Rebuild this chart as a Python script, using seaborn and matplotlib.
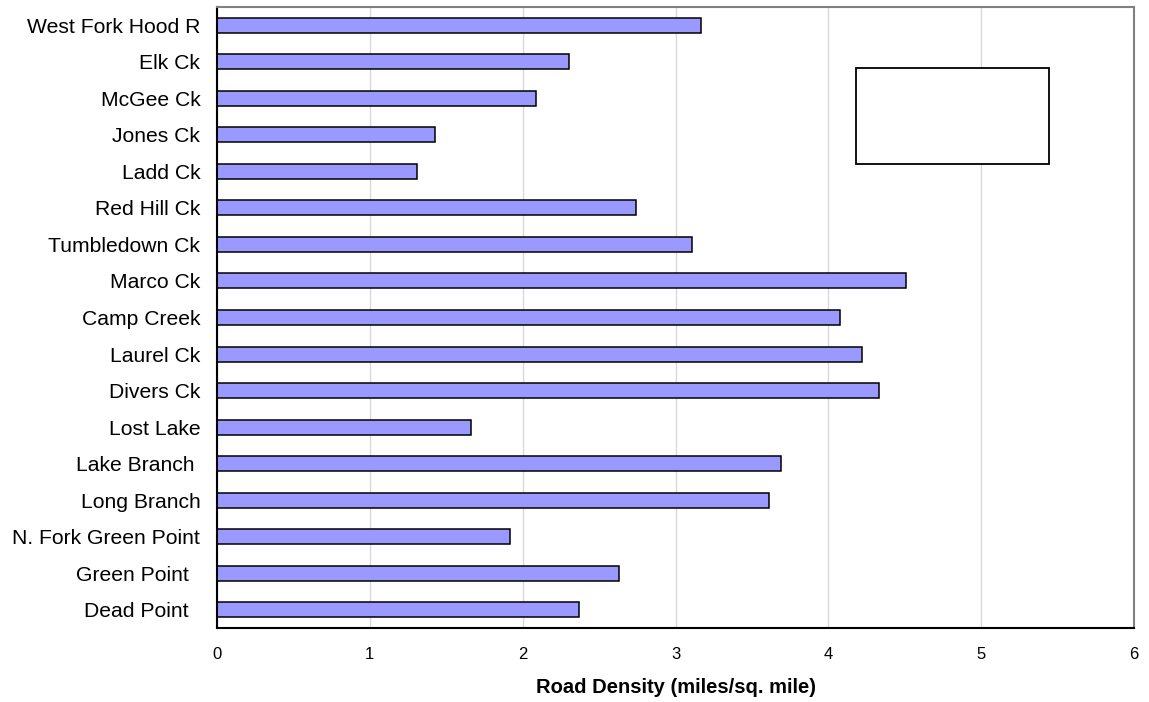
import pandas as pd
import matplotlib
matplotlib.use("Agg")
import matplotlib.pyplot as plt
import seaborn as sns
from matplotlib.patches import Rectangle

streams = ["West Fork Hood R", "Elk Ck", "McGee Ck", "Jones Ck", "Ladd Ck",
           "Red Hill Ck", "Tumbledown Ck", "Marco Ck", "Camp Creek", "Laurel Ck",
           "Divers Ck", "Lost Lake", "Lake Branch ", "Long Branch",
           "N. Fork Green Point", "Green Point  ", "Dead Point  "]
density = [3.165, 2.30, 2.09, 1.425, 1.31,
           2.74, 3.11, 4.505, 4.075, 4.22,
           4.33, 1.665, 3.69, 3.61,
           1.915, 2.63, 2.37]
x_ticks = [0, 1, 2, 3, 4, 5, 6]

df = pd.DataFrame({"stream": streams, "density": density})

sns.set_theme(style="white")
plt.rcParams['font.family'] = ['Liberation Sans', 'DejaVu Sans']
plt.rcParams['text.color'] = 'black'
plt.rcParams['axes.labelcolor'] = 'black'
plt.rcParams['xtick.color'] = 'black'
plt.rcParams['ytick.color'] = 'black'

fig = plt.figure(figsize=(11.49, 7.02), dpi=100)
ax = fig.add_axes([217 / 1149, 1 - 628 / 702, (1134 - 217) / 1149, (628 - 7) / 702])

sns.barplot(data=df, x="density", y="stream", orient="h", color="#9999FF",
            saturation=1, width=0.41, edgecolor="black", linewidth=1.1, ax=ax)

ax.set_xlim(0, 6)
ax.set_ylim(len(streams) - 0.5, -0.5)
ax.set_xticks(x_ticks)
ax.set_xticklabels([str(t) for t in x_ticks], fontsize=12)
ax.tick_params(axis="x", direction="out", length=6, width=1, color="black", pad=8)
ax.tick_params(axis="y", length=0, pad=12, labelsize=15.2)
ax.xaxis.grid(True, color="#d9d9d9", linewidth=1)
ax.set_axisbelow(True)

ax.set_xlabel("Road Density (miles/sq. mile)", fontsize=14.5, fontweight="bold",
              labelpad=11, color="black")
ax.set_ylabel("")

for side in ["top", "right"]:
    ax.spines[side].set_color("#808080")
    ax.spines[side].set_linewidth(1.5)
for side in ["left", "bottom"]:
    ax.spines[side].set_color("black")
    ax.spines[side].set_linewidth(1.5)

# empty legend frame
ax.add_patch(Rectangle(((856 - 217) / 917, 1 - (164 - 7) / 621), (1049 - 856) / 917, (164 - 68) / 621,
                       transform=ax.transAxes, fill=True, facecolor="white",
                       edgecolor="black", linewidth=1.3, zorder=5))

fig.savefig("out.png", dpi=100)
